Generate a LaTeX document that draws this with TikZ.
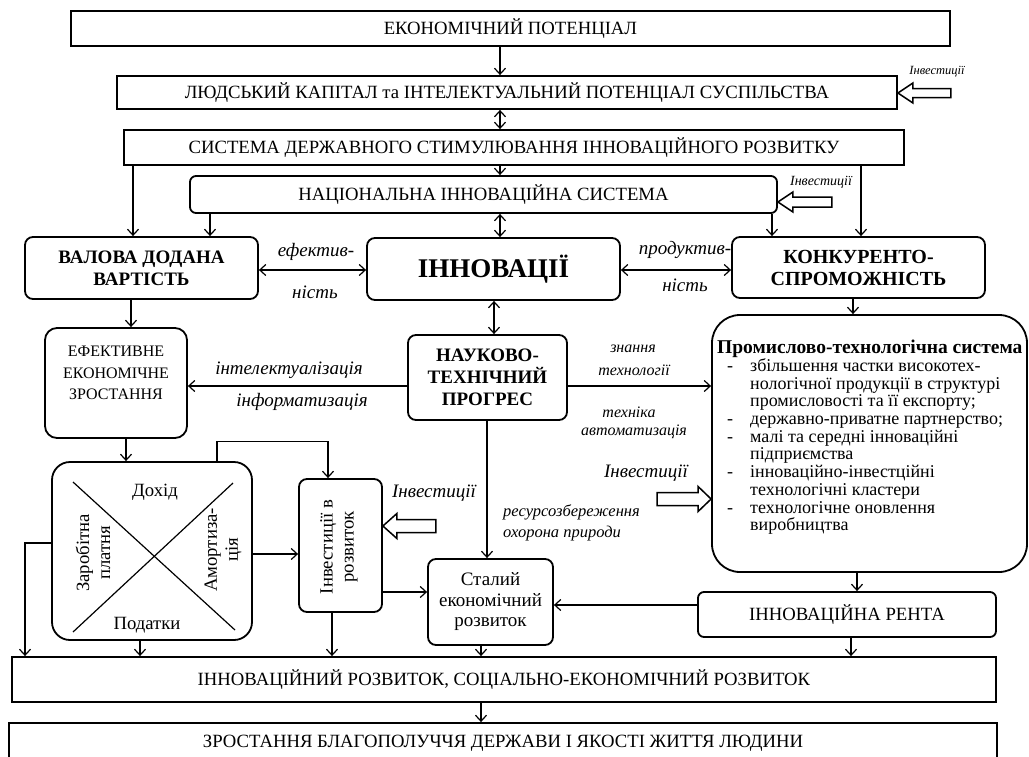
\documentclass[tikz,border=0pt]{standalone}
\usepackage{fontspec}
\setmainfont{Liberation Serif}
\usetikzlibrary{arrows.meta}
\newcommand{\fsz}{\fontsize{18.7}{21}\selectfont}
\newcommand{\fsb}{\fontsize{19}{22}\selectfont\bfseries}
\newcommand{\fsi}{\fontsize{19}{20}\selectfont\itshape}
\newcommand{\fsj}{\fontsize{16}{18}\selectfont\itshape}
\newcommand{\fsp}{\fontsize{18}{17.7}\selectfont\lineskiplimit=-20pt}
\newcommand{\bl}{\makebox[33pt][l]{\hspace*{10pt}-}}
\newcommand{\cl}{\hspace*{33pt}}
% #1 tip, #2 length, #3 head half width, #4 body half width, #5 head length
\newcommand{\holL}[5]{\draw[hol] (#1) -- ++(#5,-#3) -- ++(0,#3-#4) -- ++(#2-#5,0) -- ++(0,2*#4) -- ++(-#2+#5,0) -- ++(0,#3-#4) -- cycle;}
\newcommand{\holR}[5]{\draw[hol] (#1) -- ++(-#5,-#3) -- ++(0,#3-#4) -- ++(-#2+#5,0) -- ++(0,2*#4) -- ++(#2-#5,0) -- ++(0,#3-#4) -- cycle;}
\begin{document}
\begin{tikzpicture}[x=1pt,y=-1pt,
  every node/.style={inner sep=0pt, font=\fsz},
  sq/.style={draw, line width=1.8pt, inner sep=0pt},
  rb/.style={sq, rounded corners=8pt},
  arr/.style={line width=1.2pt,-{Straight Barb[length=6pt,width=11pt]}},
  darr/.style={line width=1.2pt,{Straight Barb[length=6pt,width=11pt]}-{Straight Barb[length=6pt,width=11pt]}},
  hol/.style={draw, line width=1.5pt, fill=white, line join=miter},
  lab/.style={font=\fsi},
  labs/.style={font=\fsj},
]
\useasboundingbox (0,0) rectangle (1029,756);
\clip (0,0) rectangle (1029,756);

% helper coordinates
\foreach \v in {500,133,861,210,772,131,494,853,126,217,328,25,140,332,487,481,857,851}{\coordinate (X\v) at (\v,0);}
\foreach \v in {93,202,270,386,554,543,592,605,526,499}{\coordinate (Y\v) at (0,\v);}

% boxes
\node[sq, minimum width=879pt, minimum height=35pt] (b1) at (510.5,28.5) {ЕКОНОМІЧНИЙ ПОТЕНЦІАЛ};
\node[sq, minimum width=780pt, minimum height=33pt] (b2) at (507,92.5) {ЛЮДСЬКИЙ КАПІТАЛ та ІНТЕЛЕКТУАЛЬНИЙ ПОТЕНЦІАЛ СУСПІЛЬСТВА};
\node[sq, minimum width=780pt, minimum height=35pt] (b3) at (514,147.5) {СИСТЕМА ДЕРЖАВНОГО СТИМУЛЮВАННЯ ІННОВАЦІЙНОГО РОЗВИТКУ};
\node[rb, rounded corners=6pt, minimum width=587pt, minimum height=37pt] (b4) at (483.5,194.5) {НАЦІОНАЛЬНА ІННОВАЦІЙНА СИСТЕМА};

\node[rb, minimum width=233pt, minimum height=62pt, align=center, font=\fsb] (val) at (141.5,268) {ВАЛОВА ДОДАНА\\ВАРТІСТЬ};
\node[rb, minimum width=253pt, minimum height=62pt, font=\fontsize{27}{30}\selectfont\bfseries] (inn) at (493.5,269) {ІННОВАЦІЇ};
\node[rb, minimum width=253pt, minimum height=61pt, align=center, font=\fontsize{20}{22}\selectfont\bfseries] (kon) at (858.5,267.5) {КОНКУРЕНТО-\\СПРОМОЖНІСТЬ};

\node[rb, minimum width=159pt, minimum height=85pt, align=center, font=\fsb] (ntp) at (487.5,377.5) {НАУКОВО-\\ТЕХНІЧНИЙ\\ПРОГРЕС};
\node[rb, rounded corners=12pt, minimum width=142pt, minimum height=110pt] (efe) at (116,383) {};
\node[align=center, font=\fontsize{16}{21.5}\selectfont] (efet) at (116,373) {ЕФЕКТИВНЕ\\ЕКОНОМІЧНЕ\\ЗРОСТАННЯ};

\node[rb, rounded corners=28pt, minimum width=315pt, minimum height=257pt] (pro) at (869.5,443.5) {};
\node[anchor=north west, align=left, font=\fsp] (prot) at (717,340) {%
{\fontsize{19.5}{17.7}\selectfont\bfseries Промислово-технологічна система}\\
\bl збільшення частки високотех-\\
\cl нологічної продукції в структурі\\
\cl промисловості та її експорту;\\
\bl державно-приватне партнерство;\\
\bl малі та середні інноваційні\\
\cl підприємства\\
\bl інноваційно-інвестційні\\
\cl технологічні кластери\\
\bl технологічне оновлення\\
\cl виробництва};

\node[rb, rounded corners=18pt, minimum width=200pt, minimum height=178pt] (dox) at (152,551) {};
\draw[line width=1.2pt] (73,482) -- (235,630);
\draw[line width=1.2pt] (233,483) -- (73,632);
\node (doxt) at (155,492) {Дохід};
\node (podt) at (147,625) {Податки};
\node[rotate=90, align=center] (zart) at (93,553) {Заробітна\\платня};
\node[rotate=90, align=center] (amot) at (223,550) {Амортиза-\\ція};

\node[rb, minimum width=83pt, minimum height=133pt] (inv) at (340.5,545.5) {};
\node[rotate=90, align=center] (invt) at (339,547) {Інвестиції в\\розвиток};

\node[rb, minimum width=125pt, minimum height=86pt, align=center, font=\fontsize{19}{20.5}\selectfont] (sta) at (490.5,602) {Сталий\\економічний\\розвиток};
\node[rb, rounded corners=6pt, minimum width=298pt, minimum height=45pt] (ren) at (847,614.5) {ІННОВАЦІЙНА РЕНТА};

\node[sq, minimum width=984pt, minimum height=45pt] (roz) at (504,679.5) {ІННОВАЦІЙНИЙ РОЗВИТОК, СОЦІАЛЬНО-ЕКОНОМІЧНИЙ РОЗВИТОК};
\node[sq, minimum width=988pt, minimum height=40pt] (zro) at (503,743) {ЗРОСТАННЯ БЛАГОПОЛУЧЧЯ ДЕРЖАВИ І ЯКОСТІ ЖИТТЯ ЛЮДИНИ};

% connectors
\draw[arr] (b1.south -| X500) -- (b2.north -| X500);
\draw[darr] (b2.south -| X500) -- (b3.north -| X500);
\draw[arr] (b3.south -| X500) -- (b4.north -| X500);
\draw[arr] (b3.south -| X133) -- (val.north -| X133);
\draw[arr] (b3.south -| X861) -- (kon.north -| X861);
\draw[arr] (b4.south -| X210) -- (val.north -| X210);
\draw[arr] (b4.south -| X772) -- (kon.north -| X772);
\draw[darr] (b4.south -| X500) -- (inn.north -| X500);
\draw[darr] (val.east |- Y270) -- (inn.west |- Y270);
\draw[darr] (inn.east |- Y270) -- (kon.west |- Y270);
\draw[arr] (val.south -| X131) -- (efe.north -| X131);
\draw[darr] (inn.south -| X494) -- (ntp.north -| X494);
\draw[arr] (ntp.west |- Y386) -- (efe.east |- Y386);
\draw[arr] (ntp.east |- Y386) -- (pro.west |- Y386);
\draw[arr] (kon.south -| X853) -- (pro.north -| X853);
\draw[arr] (efe.south -| X126) -- (dox.north -| X126);
\draw[arr] (dox.north -| X217) -- ++(0,-20) -| (inv.north -| X328);
\draw[arr] (dox.east |- Y554) -- (inv.west |- Y554);
\draw[arr] (dox.west |- Y543) -| (roz.north -| X25);
\draw[arr] (dox.south -| X140) -- (roz.north -| X140);
\draw[arr] (inv.south -| X332) -- (roz.north -| X332);
\draw[arr] (inv.east |- Y592) -- (sta.west |- Y592);
\draw[arr] (ntp.south -| X487) -- (sta.north -| X487);
\draw[arr] (sta.south -| X481) -- (roz.north -| X481);
\draw[arr] (pro.south -| X857) -- (ren.north -| X857);
\draw[arr] (ren.west |- Y605) -- (sta.east |- Y605);
\draw[arr] (ren.south -| X851) -- (roz.north -| X851);
\draw[arr] (roz.south -| X481) -- (zro.north -| X481);

% hollow investment arrows
\holL{b2.east |- Y93}{53}{10}{4.5}{15}
\holL{b4.east |- Y202}{54}{10}{5}{15}
\holL{inv.east |- Y526}{53}{12.5}{6.5}{14}
\holR{pro.west |- Y499}{54}{12.5}{6.5}{13}

% labels
\node[font=\fontsize{12.5}{14}\selectfont\itshape] (i1) at (937,72) {Інвестиції};
\node[font=\fontsize{14}{16}\selectfont\itshape] (i2) at (821,182) {Інвестиції};
\node[font=\fontsize{19}{20}\selectfont\itshape] (i3) at (434,493) {Інвестиції};
\node[font=\fontsize{19}{20}\selectfont\itshape] (i4) at (646,473) {Інвестиції};
\node[lab] (l1) at (316,252) {ефектив-};
\node[lab] (l2) at (315,292) {ність};
\node[lab] (l3) at (685,250) {продуктив-};
\node[lab] (l4) at (685,285) {ність};
\node[lab] (l5) at (289,370) {інтелектуалізація};
\node[lab] (l6) at (302,402) {інформатизація};
\node[labs] (l7) at (633,349) {знання};
\node[labs] (l8) at (634,370) {технології};
\node[labs] (l9) at (629,412) {техніка};
\node[labs] (l10) at (634,432) {автоматизація};
\node[font=\fontsize{16.5}{18}\selectfont\itshape, anchor=west] (l11) at (503,512) {ресурсозбереження};
\node[font=\fontsize{16.5}{18}\selectfont\itshape, anchor=west] (l12) at (503,534) {охорона природи};
\end{tikzpicture}
\end{document}
